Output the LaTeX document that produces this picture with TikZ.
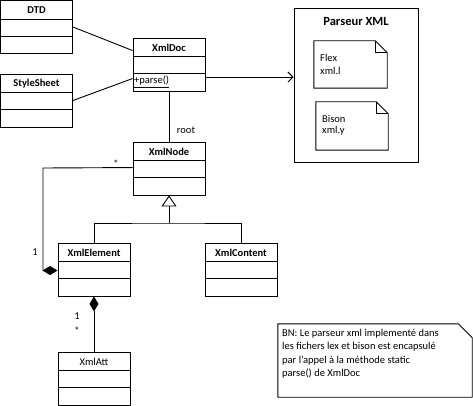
\documentclass[tikz,border=0pt]{standalone}
\usepackage{fontspec}
\setmainfont{Carlito}
\usetikzlibrary{arrows.meta,calc}
\tikzset{
  clsbox/.style={draw, line width=0.9pt, minimum width=72pt, minimum height=53pt, inner sep=0pt},
  clshead/.style={font=\fontsize{10.5}{12}\selectfont\bfseries, inner sep=0pt},
  plainhead/.style={font=\fontsize{10.5}{12}\selectfont, inner sep=0pt},
  lbl/.style={font=\fontsize{10.5}{12}\selectfont, inner sep=0pt},
  conn/.style={line width=0.9pt},
  notebox/.style={line width=0.9pt},
}
\newcommand\umlclass[5]{%
  \node[clsbox] (#1) at (#2+36,#3+26.5) {};
  \draw[line width=0.9pt] ($(#1.north west)+(0,19)$) -- ($(#1.north east)+(0,19)$);
  \draw[line width=0.9pt] ($(#1.north west)+(0,36)$) -- ($(#1.north east)+(0,36)$);
  \node[#5] (#1-t) at (#2+36,#3+9.5) {#4};
}
\begin{document}
\begin{tikzpicture}[x=1pt,y=-1pt]
\useasboundingbox (0,0) rectangle (473,406);
% classes
\umlclass{dtd}{0.5}{0.5}{DTD}{clshead}
\umlclass{style}{0.5}{74}{StyleSheet}{clshead}
\umlclass{doc}{133}{38}{XmlDoc}{clshead}
\umlclass{xnode}{133}{142}{XmlNode}{clshead}
\umlclass{elem}{58}{243}{XmlElement}{clshead}
\umlclass{cont}{205}{243}{XmlContent}{clshead}
\umlclass{att}{58}{352}{XmlAtt}{plainhead}
\node[lbl, anchor=west] (parse) at (134,82) {\underline{+parse()}};
% parser package
\node[draw, line width=0.9pt, minimum width=124pt, minimum height=154pt, inner sep=0pt] (pkg) at (356,85) {};
\node[font=\fontsize{12.5}{14}\selectfont\bfseries, inner sep=0pt] (pkgt) at (356,21) {Parseur XML};
% Flex note
\node[minimum width=73pt, minimum height=47pt, inner sep=0pt] (flex) at (350.5,64.5) {};
\draw[notebox] (flex.north west) -- ($(flex.north east)+(-12,0)$) -- ($(flex.north east)+(0,12)$) -- (flex.south east) -- (flex.south west) -- cycle;
\draw[notebox] ($(flex.north east)+(-12,0)$) -- ($(flex.north east)+(-12,12)$) -- ($(flex.north east)+(0,12)$);
\node[lbl, anchor=west] (flex1) at (320,58) {Flex};
\node[lbl, anchor=west] (flex2) at (320,71) {xml.l};
% Bison note
\node[minimum width=72pt, minimum height=48pt, inner sep=0pt] (bison) at (352,126) {};
\draw[notebox] (bison.north west) -- ($(bison.north east)+(-12,0)$) -- ($(bison.north east)+(0,12)$) -- (bison.south east) -- (bison.south west) -- cycle;
\draw[notebox] ($(bison.north east)+(-12,0)$) -- ($(bison.north east)+(-12,12)$) -- ($(bison.north east)+(0,12)$);
\node[lbl, anchor=west] (bison1) at (322,119) {Bison};
\node[lbl, anchor=west] (bison2) at (322,131) {xml.y};
% BN note
\node[minimum width=194pt, minimum height=73pt, inner sep=0pt] (bn) at (375,360.5) {};
\draw[notebox] (bn.north west) -- ($(bn.north east)+(-14,0)$) -- ($(bn.north east)+(0,14)$) -- (bn.south east) -- (bn.south west) -- cycle;
\node[lbl, anchor=north west, align=left, font=\fontsize{10.5}{13.4}\selectfont] (bntext) at (282,329) {BN: Le parseur xml implement\'e dans\\les fichers lex et bison est encapsul\'e\\par l'appel \`a la m\'ethode static\\parse() de XmlDoc};
% connectors
\draw[conn] (dtd.east) -- ($(doc.north west)+(0,13)$);
\draw[conn] (style.east) -- ($(doc.north west)+(0,41)$);
\draw[conn, -{Straight Barb[length=5pt,width=10pt,line width=0.9pt]}] ($(doc.north east)+(0,39.5)$) -- ($(pkg.north west)+(0,69.5)$);
\draw[conn] (doc.south) -- (xnode.north);
\node[lbl] (root) at (186,130) {root};
% self association
\coordinate (selfa) at (43,168);
\draw[conn, -{Diamond[length=15pt,width=9pt,fill=black]}] ($(xnode.north west)+(0,26)$) -- (selfa) |- ($(elem.north west)+(0,28)$);
\node[lbl] (star1) at (116,164) {*};
\node[lbl] (one1) at (35,252) {1};
% generalization
\coordinate (gen) at (169,223);
\draw[conn] (elem.north) |- (gen) -| (cont.north);
\draw[conn, -{Triangle[open,length=11pt,width=15pt,line width=0.9pt]}] (gen) -- (xnode.south);
% composition
\draw[conn, -{Diamond[length=15pt,width=9pt,fill=black]}] (att.north) -- (elem.south);
\node[lbl] (one2) at (77,316) {1};
\node[lbl] (star2) at (77,331) {*};
\end{tikzpicture}
\end{document}
